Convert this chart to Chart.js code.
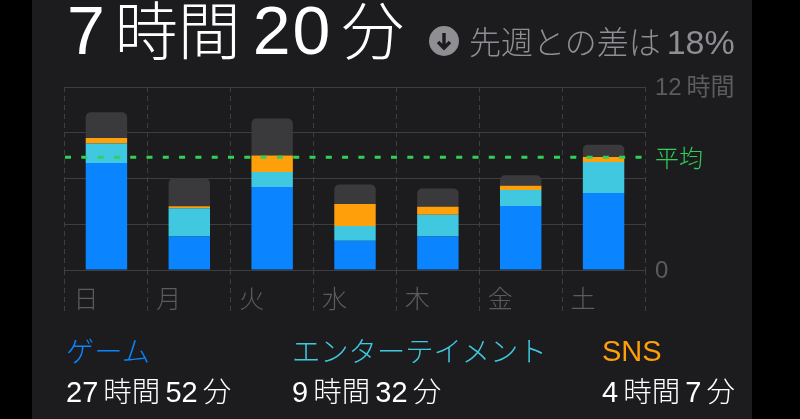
<!DOCTYPE html>
<html lang="ja">
<head>
<meta charset="utf-8">
<title>スクリーンタイム</title>
<script src="https://cdn.jsdelivr.net/npm/chart.js@4"></script>
<style>
  html, body { margin: 0; padding: 0; background: #000; }
  #wrap { position: relative; width: 800px; height: 419px; overflow: hidden; background: #000;
          font-family: "Liberation Sans", "Noto Sans CJK JP", sans-serif; }
  #panel { position: absolute; left: 32px; top: 0; width: 720px; height: 419px; background: #1c1c1e; }
  #chart { position: absolute; left: 0; top: 0; }
  .txt { position: absolute; white-space: nowrap; line-height: 1; }
  .txt span { font-family: "Noto Sans CJK JP", sans-serif; font-weight: 300; }
  #total { left: 67px; top: -5px; font-size: 68px; color: #fff; letter-spacing: 2px; }
  #total span { font-size: 63px; letter-spacing: 0; word-spacing: -2px; }
  #total span.horas { margin-left: -4px; }
  #total span.minutos { word-spacing: -5px; }
  #diff { left: 469px; top: 24px; font-size: 34px; color: #8e8e93; }
  #diff span { font-size: 32px; margin-right: 6px; }
  #icon { position: absolute; left: 429px; top: 26px; }
  .name { font-size: 28.3px; top: 336px; font-family: "Noto Sans CJK JP", sans-serif; font-weight: 300; }
  .name.latin { font-family: "Liberation Sans", sans-serif; font-size: 29px; top: 337px; }
  .time { font-size: 29px; top: 376px; color: #fff; }
  .time span { font-size: 28.5px; word-spacing: -1.2px; }
</style>
</head>
<body>
<div id="wrap">
  <div id="panel"></div>
  <canvas id="chart" width="800" height="419"></canvas>
  <div class="txt" id="total">7<span class="horas"> 時間 </span>20<span class="minutos"> 分</span></div>
  <svg id="icon" width="30" height="30" viewBox="0 0 30 30">
    <circle cx="15" cy="15" r="15" fill="#8e8e93"/>
    <path d="M15 7 V22 M9 16 L15 22 L21 16" fill="none" stroke="#1c1c1e" stroke-width="3.4"/>
  </svg>
  <div class="txt" id="diff"><span>先週との差は</span>18%</div>
  <div id="legend"></div>
</div>
<script>
// ---- DATOS ----
var DIAS      = ["日", "月", "火", "水", "木", "金", "土"];
var GAME      = [7.02, 2.19, 5.44, 1.92, 2.19, 4.20, 5.05];
var ENTRE     = [1.27, 1.86, 0.98, 0.96, 1.44, 1.05, 2.03];
var SNS       = [0.37, 0.13, 1.09, 1.44, 0.52, 0.28, 0.33];
var OTROS     = [1.68, 1.84, 2.43, 1.29, 1.20, 0.68, 0.81];
var PROMEDIO  = 7.4;
var Y_MAX     = 12;
var Y_STEP    = 3;
var Y_LABELS  = { 0: "0", 12: "12\u2009時間" };
var CAT_NOMBRES = ["ゲーム", "エンターテイメント", "SNS"];
var CAT_HORAS   = [[27, 52], [9, 32], [4, 7]];

var COLORS = {
  game:  "#0a84ff",
  entre: "#40c8e0",
  sns:   "#ff9f0a",
  otros: "#3a3a3c",
  prom:  "#30d158",
  grid:  "#3e3e40",
  tick:  "#5c5c5e"
};
var CAT_COLORS = [COLORS.game, COLORS.entre, COLORS.sns];
var CAT_X      = [66, 292, 602];

// ---- LEYENDA ----
var legend = document.getElementById("legend");
CAT_NOMBRES.forEach(function(nombre, i) {
  var h = CAT_HORAS[i];
  var clase = nombre === "SNS" ? "txt name latin" : "txt name";
  legend.innerHTML +=
    '<div class="' + clase + '" style="left:' + CAT_X[i] + 'px;color:' + CAT_COLORS[i] + '">' + nombre + "</div>" +
    '<div class="txt time" style="left:' + CAT_X[i] + 'px">' + h[0] + "<span> 時間 </span>" + h[1] + "<span> 分</span></div>";
});

// ---- GRAFICO ----
function barra(label, data, color, extra) {
  return Object.assign({
    type: "bar",
    label: label,
    data: data,
    backgroundColor: color,
    xAxisID: "x",
    yAxisID: "y",
    order: 2,
    grouped: false,
    barPercentage: 0.5,
    categoryPercentage: 1
  }, extra || {});
}

var chart = new Chart(document.getElementById("chart"), {
  data: {
    labels: DIAS,
    datasets: [
      barra("ゲーム", GAME, COLORS.game),
      barra("エンターテイメント", ENTRE, COLORS.entre),
      barra("SNS", SNS, COLORS.sns),
      barra("その他", OTROS, COLORS.otros, {
        borderRadius: { topLeft: 5, topRight: 5, bottomLeft: 0, bottomRight: 0 },
        borderSkipped: false
      }),
      {
        type: "line",
        label: "平均",
        data: [{ x: 0, y: PROMEDIO }, { x: DIAS.length, y: PROMEDIO }],
        xAxisID: "xLinea",
        yAxisID: "y",
        order: 1,
        borderColor: COLORS.prom,
        borderWidth: 3,
        borderDash: [6, 10.3],
        pointRadius: 0,
        fill: false
      }
    ]
  },
  options: {
    responsive: false,
    animation: false,
    layout: { padding: { left: 65, top: 87, right: 0, bottom: 0 } },
    plugins: { legend: { display: false }, tooltip: { enabled: false } },
    scales: {
      x: {
        type: "category",
        stacked: true,
        position: "bottom",
        afterFit: function(scale) { scale.height = 149; },
        border: { display: false, dash: [5, 4] },
        grid: { color: COLORS.grid, lineWidth: 1, tickLength: 41, tickColor: COLORS.grid, tickBorderDash: [5, 4], offset: true },
        ticks: {
          color: COLORS.tick,
          font: { family: "'Noto Sans CJK JP'", size: 25, weight: 300 },
          padding: -28,
          labelOffset: -20.5,
          maxRotation: 0,
          autoSkip: false
        }
      },
      xLinea: { type: "linear", display: false, min: 0, max: DIAS.length },
      y: {
        type: "linear",
        stacked: true,
        position: "right",
        min: 0,
        max: Y_MAX,
        afterFit: function(scale) { scale.width = 155; },
        border: { display: false },
        grid: { color: COLORS.grid, lineWidth: 1, drawTicks: false },
        ticks: {
          stepSize: Y_STEP,
          color: COLORS.tick,
          font: { family: "'Liberation Sans','Noto Sans CJK JP'", size: 24 },
          padding: 10,
          labelOffset: 1.5,
          callback: function(v) { return Y_LABELS[v] || ""; }
        }
      }
    }
  },
  plugins: [{
    id: "promedioLabel",
    afterDraw: function(c) {
      var ctx = c.ctx;
      var y = c.scales.y.getPixelForValue(PROMEDIO);
      ctx.save();
      ctx.fillStyle = COLORS.prom;
      ctx.font = "300 24px 'Noto Sans CJK JP'";
      ctx.textBaseline = "middle";
      ctx.fillText("平均", c.chartArea.right + 10, y + 1);
      ctx.restore();
    }
  }]
});
</script>
</body>
</html>
